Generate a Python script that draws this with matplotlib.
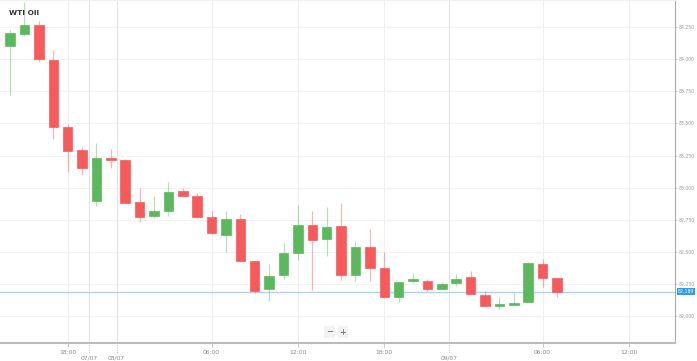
import matplotlib
matplotlib.use('Agg')
import matplotlib.pyplot as plt

# Hourly candles, WTI Oil
opens  = [84.103, 84.196, 84.266, 83.994, 83.472, 83.293, 82.896, 83.223, 83.215, 82.888,
          82.779, 82.818, 82.974, 82.935, 82.771, 82.631, 82.755, 82.428, 82.210, 82.319,
          82.491, 82.709, 82.600, 82.701, 82.319, 82.537, 82.374, 82.148, 82.273, 82.273,
          82.210, 82.257, 82.304, 82.164, 82.078, 82.086, 82.109, 82.405, 82.296]
highs  = [84.227, 84.445, 84.298, 84.072, 83.495, 83.316, 83.347, 83.301, 83.220, 82.997,
          82.935, 83.044, 82.997, 82.958, 82.818, 82.818, 82.794, 82.428, 82.405, 82.569,
          82.864, 82.818, 82.849, 82.880, 82.584, 82.678, 82.498, 82.265, 82.335, 82.288,
          82.265, 82.327, 82.350, 82.195, 82.148, 82.179, 82.421, 82.444, 82.296]
lows   = [83.721, 84.181, 83.978, 83.379, 83.121, 83.098, 82.857, 83.153, 82.880, 82.732,
          82.763, 82.779, 82.927, 82.763, 82.639, 82.498, 82.421, 82.179, 82.117, 82.288,
          82.436, 82.202, 82.467, 82.280, 82.273, 82.273, 82.140, 82.109, 82.257, 82.195,
          82.210, 82.234, 82.164, 82.078, 82.055, 82.086, 82.109, 82.226, 82.148]
closes = [84.204, 84.266, 84.002, 83.472, 83.285, 83.153, 83.231, 83.215, 82.880, 82.771,
          82.818, 82.966, 82.935, 82.771, 82.646, 82.755, 82.428, 82.195, 82.312, 82.491,
          82.709, 82.592, 82.693, 82.319, 82.537, 82.374, 82.148, 82.265, 82.288, 82.210,
          82.249, 82.288, 82.171, 82.078, 82.086, 82.101, 82.413, 82.296, 82.189]

time_ticks = [4, 14, 20, 26, 37, 43]
time_labels = ['18:00', '06:00', '12:00', '18:00', '06:00', '12:00']
date_ticks = [5.5, 7.4, 30.5]
date_labels = ['07/07', '08/07', '09/07']
price_ticks = [82.0, 82.25, 82.5, 82.75, 83.0, 83.25, 83.5, 83.75, 84.0, 84.25]

up_col = '#5cb85c'
dn_col = '#f75a5a'

fig = plt.figure(figsize=(6.97, 3.61), dpi=100)
ax = fig.add_axes([0, 18 / 361, 675 / 697, 343 / 361])

for i in range(len(opens)):
    o, h, l, c = opens[i], highs[i], lows[i], closes[i]
    col = up_col if c >= o else dn_col
    ax.vlines(i, l, h, color=col, lw=0.9, alpha=0.45, zorder=2)
    body = max(abs(c - o), 0.012)
    ax.bar(i, body, bottom=min(o, c), width=0.66, color=col,
           edgecolor=col, linewidth=0.5, zorder=3)

# current price line
last = closes[-1]
ax.axhline(last, color='#a9d4f5', lw=1, zorder=1)

ax.set_xlim(-0.7, 46.2)
ax.set_ylim(81.79, 84.461)

# grid
for p in price_ticks:
    ax.axhline(p, color='#f2f2f2', lw=0.8, zorder=0)
for t in time_ticks:
    ax.axvline(t, color='#efefef', lw=0.8, zorder=0)
for t in date_ticks:
    ax.axvline(t, color='#e2e2e2', lw=0.8, zorder=0)

ax.set_xticks(time_ticks)
ax.set_xticklabels(time_labels)
ax.tick_params(axis='x', length=3, width=0.6, color='#bbbbbb', labelsize=4.3,
               labelcolor='#888888', pad=2)
for t, lab in zip(date_ticks, date_labels):
    ax.plot([t, t], [-0.005, -0.03], transform=ax.get_xaxis_transform(),
            color='#aaaaaa', lw=0.6, ls=':', clip_on=False)
    ax.text(t, -0.035, lab, transform=ax.get_xaxis_transform(), ha='center',
            va='top', fontsize=4.3, color='#888888')

ax.yaxis.tick_right()
ax.set_yticks(price_ticks)
ax.set_yticklabels(['%.3f' % p for p in price_ticks])
ax.tick_params(axis='y', length=1.5, width=0.6, color='#bbbbbb', labelsize=3.3,
               labelcolor='#999999', pad=1)

ax.spines['left'].set_visible(False)
ax.spines['top'].set_color('#eeeeee')
ax.spines['right'].set_color('#aaaaaa')
ax.spines['right'].set_linewidth(0.8)
ax.spines['bottom'].set_color('#bbbbbb')
ax.spines['bottom'].set_linewidth(1.5)

# last price tag
ax.text(1.004, last, '%.3f' % last, transform=ax.get_yaxis_transform(),
        ha='left', va='center', fontsize=3.3, color='white',
        bbox=dict(boxstyle='square,pad=0.2', fc='#2a9df4', ec='none'))

ax.text(0.013, 0.963, 'WTI Oil', transform=ax.transAxes, fontsize=5.3,
        fontweight='bold', color='#333333', va='center')

# zoom buttons
ax.text(0.488, 0.032, '\u2212', transform=ax.transAxes, fontsize=6, color='#555555',
        ha='center', va='center', bbox=dict(boxstyle='square,pad=0.2', fc='#f2f2f2', ec='none'))
ax.text(0.508, 0.032, '+', transform=ax.transAxes, fontsize=6, color='#555555',
        ha='center', va='center', bbox=dict(boxstyle='square,pad=0.2', fc='#f2f2f2', ec='none'))

fig.savefig('out.png', dpi=100)
